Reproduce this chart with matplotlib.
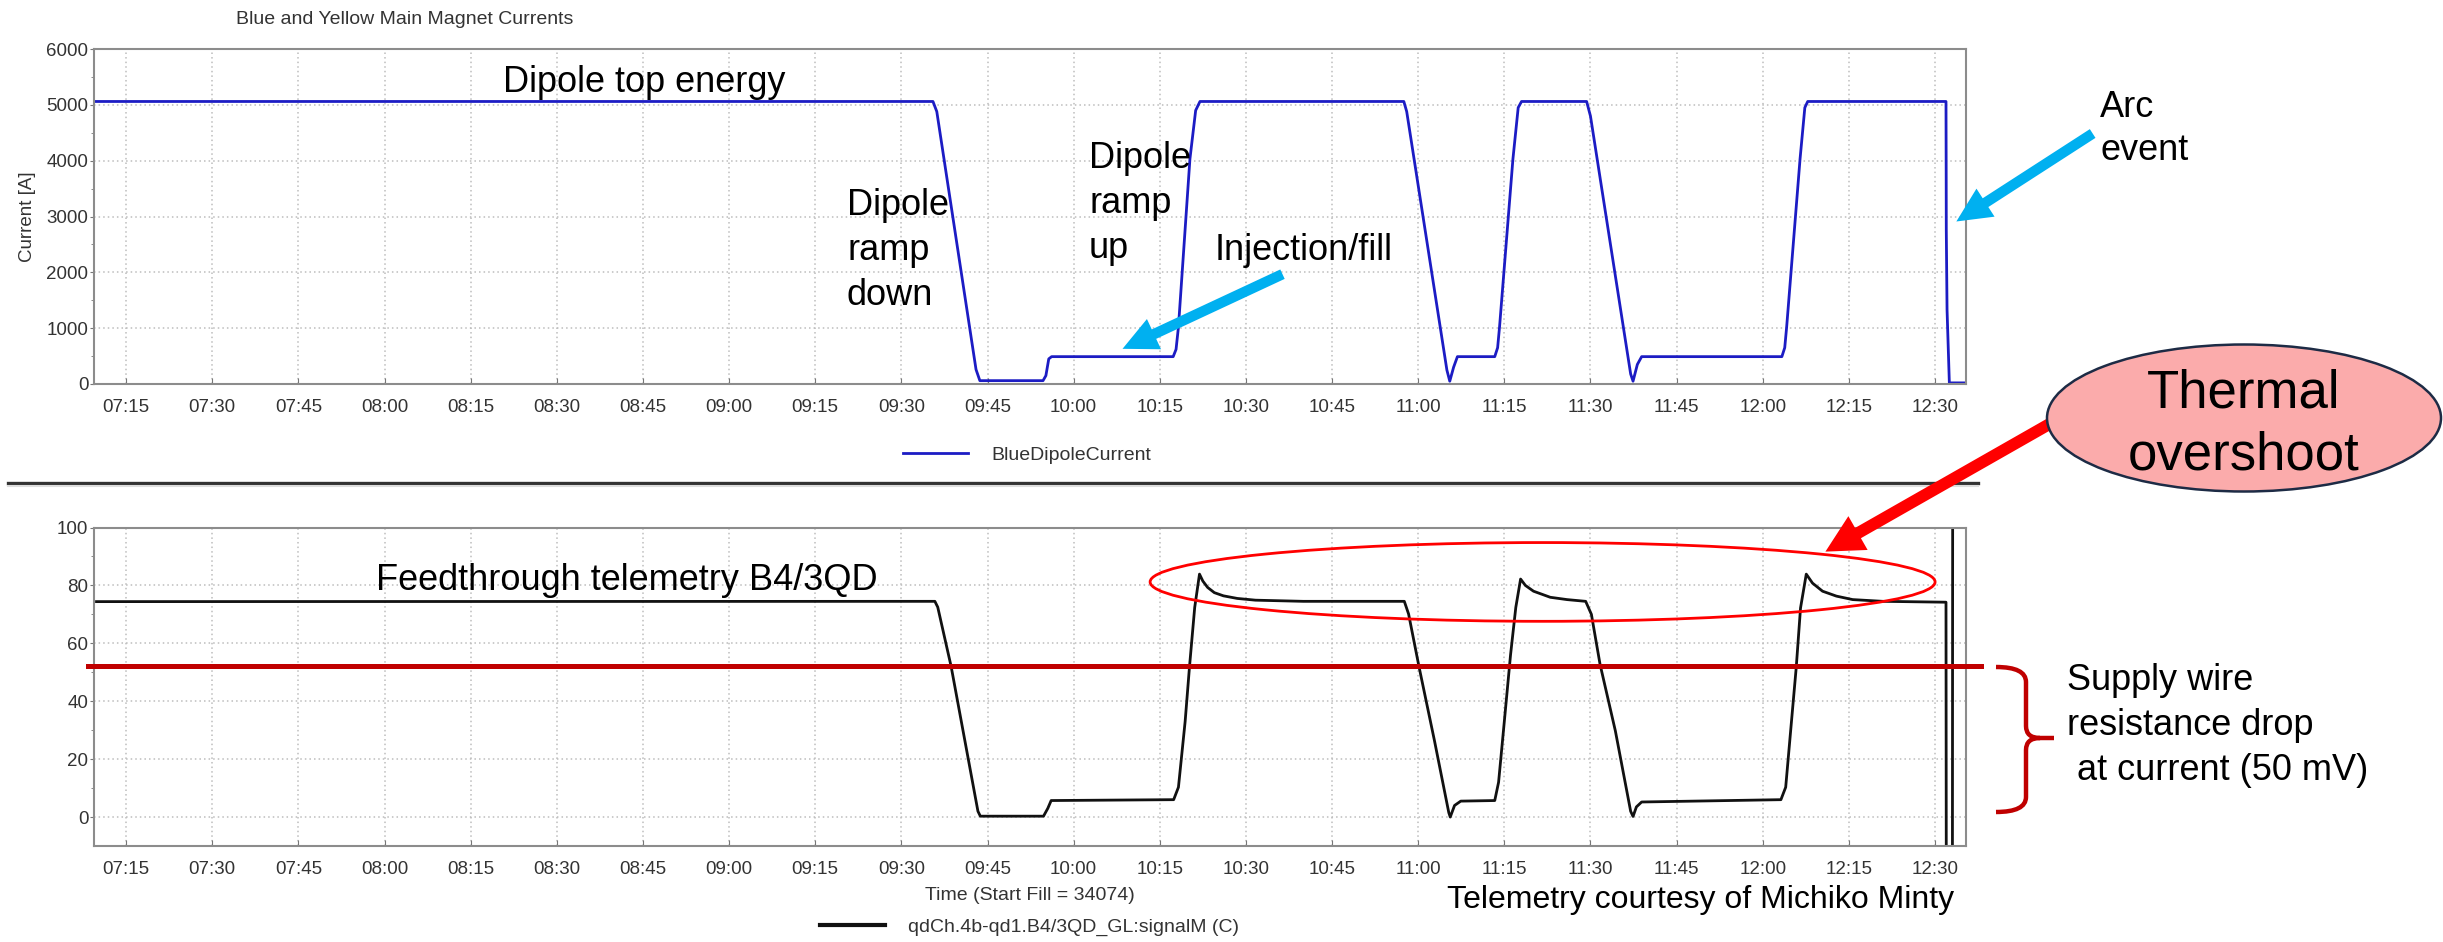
import numpy as np
import pandas as pd
import matplotlib
matplotlib.use("Agg")
import matplotlib.pyplot as plt
import matplotlib.dates as mdates
from matplotlib.patches import Ellipse, FancyArrowPatch, PathPatch
from matplotlib.path import Path
from matplotlib.lines import Line2D
from matplotlib.transforms import Affine2D

plt.rcParams["font.family"] = ["Liberation Sans", "DejaVu Sans"]

# Blue dipole current [A]
blue_times = ["07:09:30", "09:35:30", "09:36:10", "09:43:00", "09:43:40", "09:54:40", "09:55:10",
              "09:55:40", "09:56:10", "10:17:20", "10:17:50", "10:18:15", "10:20:15", "10:21:15",
              "10:22:00", "10:57:30", "10:58:00", "11:05:00", "11:05:30", "11:06:10", "11:06:50",
              "11:13:20", "11:13:50", "11:14:10", "11:16:30", "11:17:25", "11:18:00", "11:29:20",
              "11:30:00", "11:37:00", "11:37:25", "11:38:10", "11:38:55", "12:03:20", "12:03:50",
              "12:04:10", "12:06:30", "12:07:20", "12:07:50", "12:31:55", "12:31:57", "12:31:58",
              "12:32:06", "12:32:30", "12:35:20"]
blue_current = [5060, 5060, 4880, 260, 60, 60, 150,
                450, 490, 490, 620, 1020, 4030, 4900,
                5060, 5060, 4880, 250, 50, 300, 490,
                490, 650, 1020, 4030, 4950, 5060, 5060,
                4800, 180, 50, 350, 490, 490, 650,
                1020, 4030, 4950, 5060, 5060, 3690, 2760,
                1330, 20, 20]

# Feedthrough telemetry B4/3QD
tele_times = ["07:09:50", "09:35:50", "09:36:20", "09:38:40", "09:43:20", "09:43:45", "09:54:45",
              "09:55:30", "09:56:05", "10:17:25", "10:18:15", "10:19:25", "10:20:10", "10:21:05",
              "10:21:55", "10:22:30", "10:23:20", "10:24:30", "10:26:05", "10:28:30", "10:31:40",
              "10:40:00", "10:57:35", "10:58:20", "11:00:10", "11:02:50", "11:05:20", "11:05:35",
              "11:06:20", "11:07:25", "11:13:20", "11:14:00", "11:15:00", "11:16:05", "11:17:00",
              "11:17:50", "11:18:40", "11:20:05", "11:23:00", "11:25:55", "11:29:10", "11:30:10",
              "11:31:40", "11:34:20", "11:37:00", "11:37:25", "11:38:00", "11:38:55", "12:03:10",
              "12:04:00", "12:04:55", "12:05:50", "12:06:35", "12:07:35", "12:08:40", "12:10:25",
              "12:12:50", "12:15:40", "12:20:55", "12:31:55", "12:31:58", "12:33:02", "12:33:05"]
tele_signal = [74.4, 74.5, 72.5, 52.0, 2.0, 0.3, 0.3,
               3.0, 5.7, 6.0, 10.3, 33.0, 51.7, 72.4,
               83.9, 81.5, 79.3, 77.5, 76.4, 75.5, 74.9,
               74.5, 74.5, 70.1, 51.7, 26.4, 1.5, 0.0,
               4.0, 5.5, 5.7, 12.0, 33.0, 56.0, 72.4,
               82.2, 80.0, 78.0, 75.9, 75.1, 74.5, 70.0,
               52.8, 29.8, 2.0, 0.2, 3.5, 5.2, 6.0,
               10.3, 31.0, 51.6, 72.2, 83.9, 80.8, 78.0,
               76.3, 75.1, 74.5, 74.2, -20.0, -20.0, 120.0]

supply_drop_level = 52
x_range = ["07:09:24", "12:35:24"]


def to_time(lst):
    return pd.to_datetime(["2000-01-01 " + t for t in lst])


W, H = 2443, 942
fig = plt.figure(figsize=(W / 100, H / 100), dpi=100)
# pixel coordinates, origin top-left
pix = Affine2D().scale(1 / W, -1 / H).translate(0, 1) + fig.transFigure

ax1 = fig.add_axes([94 / W, 1 - 384 / H, 1872 / W, 335 / H])
ax2 = fig.add_axes([94 / W, 1 - 846 / H, 1872 / W, 318.5 / H])

blue_line, = ax1.plot(to_time(blue_times), blue_current, color="#1c1cc4", lw=2.0)
black_line, = ax2.plot(to_time(tele_times), tele_signal, color="#111111", lw=2.0)

xlim = to_time(x_range)
for ax in (ax1, ax2):
    ax.set_xlim(xlim[0], xlim[1])
    ax.xaxis.set_major_locator(mdates.MinuteLocator(byminute=[0, 15, 30, 45]))
    ax.xaxis.set_major_formatter(mdates.DateFormatter("%H:%M"))
    ax.grid(True, which="major", color="#bdbdbd", linestyle=(0, (1, 2)), lw=1.1)
    ax.set_axisbelow(True)
    for sp in ax.spines.values():
        sp.set_color("#8c8c8c")
        sp.set_linewidth(1.5)
    ax.tick_params(axis="x", direction="in", length=4, pad=11, labelsize=13.5,
                   labelcolor="#333333", color="#777777")
    ax.tick_params(axis="y", which="major", direction="out", length=3, pad=1,
                   labelsize=13.5, labelcolor="#333333", color="#777777")
    ax.tick_params(axis="y", which="minor", direction="out", length=2, color="#777777")

ax1.set_ylim(0, 6000)
ax1.set_yticks(np.arange(0, 6001, 1000))
ax1.set_yticks(np.arange(500, 6000, 1000), minor=True)
ax2.set_ylim(-10, 100)
ax2.set_yticks(np.arange(0, 101, 20))
ax2.set_yticks(np.arange(10, 100, 20), minor=True)

# supply wire drop level and overshoot ellipse
ax2.axhline(supply_drop_level, xmin=-0.003, xmax=1.008, color="#c00000", lw=3.6,
            clip_on=False, zorder=5)
cx = mdates.date2num(pd.Timestamp("2000-01-01 11:21:40"))
ax2.add_patch(Ellipse((cx, 81.2), 136.7 / 1440, 27.2, fill=False, ec="#ff0000", lw=2.0,
                      zorder=6))

# figure texts
fig.text(405, 20, "Blue and Yellow Main Magnet Currents", transform=pix, ha="center",
         va="center", fontsize=14, color="#333333")
fig.text(28, 217, "Current [A]", transform=pix, ha="center", va="center", rotation=90,
         fontsize=13.5, color="#333333")
fig.text(1030, 895, "Time (Start Fill = 34074)", transform=pix, ha="center", va="center",
         fontsize=14, color="#333333")

fig.legend([blue_line], ["BlueDipoleCurrent"], loc="center left",
           bbox_to_anchor=(903 / W, 1 - 455 / H), frameon=False, fontsize=14,
           handlelength=3.35, handletextpad=1.2, borderpad=0, borderaxespad=0,
           labelcolor="#333333")
fig.legend([Line2D([], [], color="#111111", lw=3)], ["qdCh.4b-qd1.B4/3QD_GL:signalM (C)"],
           loc="center left", bbox_to_anchor=(820 / W, 1 - 927 / H), frameon=False,
           fontsize=14, handlelength=3.35, handletextpad=1.2, borderpad=0, borderaxespad=0,
           labelcolor="#333333")

# separator between the two panels
fig.add_artist(Line2D([8, 1978], [483, 483], transform=pix, color="#333333", lw=2.4))
fig.add_artist(Line2D([8, 1978], [486, 486], transform=pix, color="#dddddd", lw=1.5))

# annotations
labels = [
    ("Dipole top energy", 503, 92, 26),
    ("Dipole", 847, 215, 26), ("ramp", 847, 260, 26), ("down", 847, 305, 26),
    ("Dipole", 1089, 168, 26), ("ramp", 1089, 213, 26), ("up", 1089, 258, 26),
    ("Injection/fill", 1215, 260, 26),
    ("Arc", 2100, 117, 26), ("event", 2100, 160, 26),
    ("Feedthrough telemetry B4/3QD", 376, 590, 26),
    ("Supply wire", 2067, 690, 26), ("resistance drop", 2067, 735, 26),
    (" at current (50 mV)", 2067, 780, 26),
    ("Telemetry courtesy of Michiko Minty", 1447, 908, 23),
]
for s, x, y, fs in labels:
    fig.text(x, y, s, transform=pix, ha="left", va="baseline", fontsize=fs, color="black")

cyan = "#00b0f0"
for tail, tip in [((1285, 273), (1120, 350)), ((2095, 132), (1954, 223))]:
    fig.add_artist(FancyArrowPatch(tail, tip, transform=pix, color=cyan, lw=0,
                                   arrowstyle="simple,head_length=25,head_width=24,tail_width=7.5"))

fig.add_artist(FancyArrowPatch((2060, 418), (1823, 553), transform=pix, color="#ff0000", lw=0,
                               arrowstyle="simple,head_length=27,head_width=28,tail_width=8.5",
                               zorder=3))
fig.add_artist(Ellipse((2244, 418), 394, 147, transform=pix, fc="#fbabab", ec="#1d2b45",
                       lw=1.8, zorder=4))
fig.text(2244, 407, "Thermal", transform=pix, ha="center", va="baseline", fontsize=38,
         zorder=5)
fig.text(2244, 470, "overshoot", transform=pix, ha="center", va="baseline", fontsize=38,
         zorder=5)

# curly bracket for the supply wire drop
verts = [(1996, 667), (2026, 667), (2026, 682), (2026, 726), (2026, 738), (2040, 738),
         (2054, 738), (2040, 738), (2026, 738), (2026, 750), (2026, 797), (2026, 812),
         (1996, 812)]
codes = [Path.MOVETO, Path.CURVE3, Path.CURVE3, Path.LINETO, Path.CURVE3, Path.CURVE3,
         Path.LINETO, Path.MOVETO, Path.CURVE3, Path.CURVE3, Path.LINETO, Path.CURVE3,
         Path.CURVE3]
fig.add_artist(PathPatch(Path(verts, codes), transform=pix, fill=False, ec="#c00000", lw=3.2))

fig.savefig("out.png", dpi=100)
